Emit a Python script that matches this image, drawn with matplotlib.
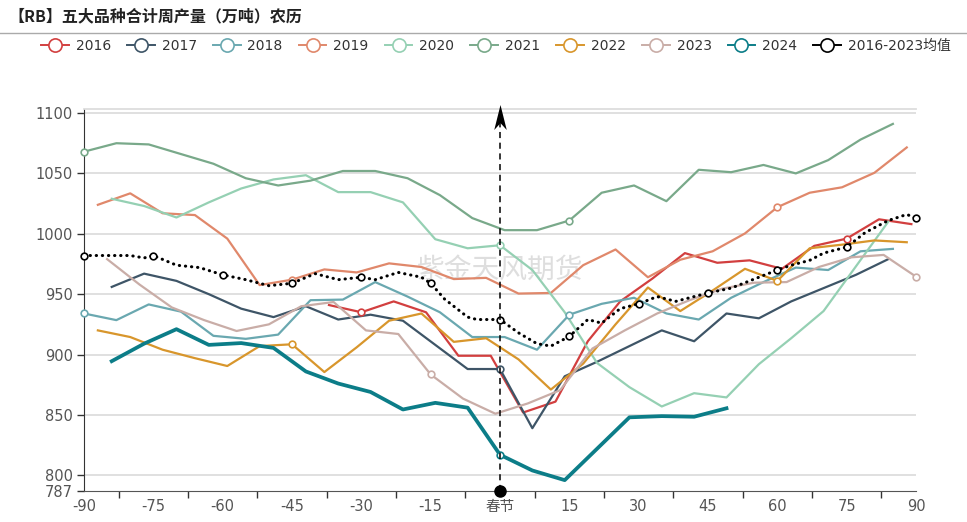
"""Weekly combined output of five steel products, aligned on lunar new year."""
import numpy as np
import matplotlib

matplotlib.use("Agg")
import matplotlib.pyplot as plt
from matplotlib.lines import Line2D
from matplotlib.path import Path

plt.rcParams["font.family"] = ["DejaVu Sans", "Noto Sans CJK SC"]

TITLE = "【RB】五大品种合计周产量（万吨）农历"
WATERMARK = "紫金天风期货"

# days relative to spring festival; weekly samples start at these offsets
START_2016, START_2017, START_2018, START_2019, START_2020 = -37, -84, -90, -87, -84
START_2021, START_2022, START_2023, START_2024 = -90, -87, -85, -84

y2016 = [941, 935, 944, 935, 899, 899, 852, 861, 911, 944, 963, 984, 976, 978,
         971, 990, 996, 1012, 1008]
y2017 = [956, 967, 961, 950, 938, 931, 940, 929, 933, 928, 908, 888, 888, 839,
         882, 894, 907, 920, 911, 934, 930, 944, 955, 966, 979]
y2018 = [934, 928.5, 941.5, 935.5, 915.5, 913, 916.5, 945, 945.5, 960, 948, 935,
         914.5, 914.5, 904, 933, 942, 947, 934, 929, 947, 960, 972, 970, 985.5,
         987.5]
y2019 = [1024, 1033.5, 1017, 1015.5, 996, 957.5, 962, 970.5, 968, 975.5, 972.5,
         962.5, 963.5, 950.5, 951, 974, 987, 964, 978.5, 985.5, 1000.3, 1022,
         1034, 1038.5, 1050.5, 1071.5]
y2020 = [1029, 1023, 1013.5, 1026, 1037.5, 1045, 1048.5, 1034.5, 1034.5, 1026,
         995.5, 988, 990.5, 970, 935, 893, 873, 857, 868, 864.5, 892, 913.5, 936,
         973, 1010]
y2021 = [1068, 1075, 1074, 1066, 1058, 1046, 1040, 1044, 1052, 1052, 1046, 1032,
         1013, 1003, 1003, 1011, 1034, 1040, 1027, 1053, 1051, 1057, 1050, 1061,
         1078, 1091]
y2022 = [920, 914.5, 904, 897, 890.5, 907, 908.5, 885.5, 906, 928, 934, 910.5,
         913.5, 896, 871, 892.5, 925, 955.5, 936, 953, 971, 961, 988, 991, 994.5,
         993]
y2023 = [979, 958, 939, 928.5, 919.5, 925, 940, 943.5, 920, 917, 883.5, 863.5,
         851, 859.5, 870.5, 905, 920, 934, 945, 954.5, 959.5, 960, 972.5, 980.5,
         982.5, 964.5]
y2024 = [894.5, 909, 921, 908, 909.5, 905.5, 886, 876, 869, 854.5, 860, 856, 817,
         804, 796, 822, 848, 849, 848.5, 855.5]

avg_days = [-90, -85, -80, -77, -75, -70, -65, -60, -55, -50, -45, -40, -35, -30,
            -27, -22, -17, -15, -12, -7, -5, 0, 4, 8, 11, 15, 19, 22, 26, 30, 34,
            38, 42, 45, 50, 54, 58, 60, 63, 67, 70, 75, 79, 84, 88, 90]
avg_vals = [982, 982, 982, 980, 982, 974, 972, 966, 962, 957, 959, 967, 962, 964,
            962, 968, 964, 959, 946, 931, 929, 929, 918, 909, 907, 915, 929, 926,
            938, 942, 948, 944, 948, 951, 955, 961, 967, 970, 974, 978, 984, 989,
            1001, 1011, 1016, 1013]

x_ticks = [-90, -75, -60, -45, -30, -15, 0, 15, 30, 45, 60, 75, 90]
x_labels = ["-90", "-75", "-60", "-45", "-30", "-15", "春节", "15", "30", "45",
            "60", "75", "90"]
y_ticks = [787, 800, 850, 900, 950, 1000, 1050, 1100]

SERIES = [
    ("2016", START_2016, y2016, "#d23f3f", 1.6),
    ("2017", START_2017, y2017, "#3e5567", 1.6),
    ("2018", START_2018, y2018, "#6aa8b0", 1.6),
    ("2019", START_2019, y2019, "#e0886b", 1.6),
    ("2020", START_2020, y2020, "#95d0b3", 1.6),
    ("2021", START_2021, y2021, "#79a98a", 1.6),
    ("2022", START_2022, y2022, "#d8962c", 1.6),
    ("2023", START_2023, y2023, "#c9ada7", 1.6),
    ("2024", START_2024, y2024, "#0c7d88", 2.7),
]

Y_MIN, Y_MAX = 787, 1103.5

# notched arrow head pointing up (unit marker path)
ARROW_HEAD = Path([(0, 1), (0.5, -1), (0, -0.45), (-0.5, -1), (0, 1)],
                  [Path.MOVETO, Path.LINETO, Path.LINETO, Path.LINETO,
                   Path.CLOSEPOLY])


def _draw_series(ax, days, vals, color, lw, ls="-", z=3):
    days = np.asarray(days)
    vals = np.asarray(vals, dtype=float)
    ax.plot(days, vals, color=color, linewidth=lw, linestyle=ls, zorder=z,
            solid_joinstyle="round", dash_capstyle="round")
    on_label = days % 15 == 0
    ax.plot(days[on_label], vals[on_label], linestyle="none", marker="o",
            markersize=4.8, markerfacecolor="white", markeredgecolor=color,
            markeredgewidth=1.2, zorder=z + 0.5, clip_on=False)


fig = plt.figure(figsize=(9.67, 5.22), dpi=100)
ax = fig.add_axes([84 / 967, 1 - 491 / 522, 832 / 967, (491 - 108.8) / 522])

fig.text(8 / 967, 1 - 16 / 522, TITLE, fontsize=11.5, fontweight="bold",
         color="#222222", va="center", ha="left",
         family=["Noto Sans CJK SC", "DejaVu Sans"])
fig.add_artist(Line2D([0, 1], [1 - 33 / 522] * 2, color="#aaaaaa", lw=1.0))

ax.text(0.5, 0.58, WATERMARK, transform=ax.transAxes, fontsize=20,
        color="#dedede", ha="center", va="center", zorder=1,
        family=["Noto Sans CJK SC"])

for name, start, vals, color, lw in SERIES:
    days = start + 7 * np.arange(len(vals))
    _draw_series(ax, days, vals, color, lw, z=4 if name == "2024" else 3)

_draw_series(ax, avg_days, avg_vals, "black", 2.2, ls=(0, (0.1, 1.9)), z=5)

# spring festival marker
ax.plot([0, 0], [Y_MIN, Y_MAX - 8], color="black", lw=1.1,
        linestyle=(0, (4, 3)), zorder=6, clip_on=False)
ax.plot(0, Y_MAX - 7, marker=ARROW_HEAD, markersize=18, color="black",
        markeredgewidth=0, zorder=6, clip_on=False)
ax.plot(0, Y_MIN, marker="o", markersize=8, color="black", zorder=7,
        clip_on=False)

ax.set_xlim(-90, 90)
ax.set_ylim(Y_MIN, Y_MAX)
ax.set_xticks(x_ticks)
ax.set_xticklabels(x_labels)
ax.set_xticks([t + 7.5 for t in x_ticks[:-1]], minor=True)
ax.set_yticks(y_ticks)
ax.tick_params(axis="x", which="major", length=0, pad=6, labelsize=10.5,
               labelcolor="#555555")
ax.tick_params(axis="x", which="minor", length=5, width=1, color="#333333")
ax.tick_params(axis="y", length=5, width=1, color="#333333", labelsize=10.5,
               labelcolor="#555555", pad=3)

for y in y_ticks[1:]:
    ax.axhline(y, color="#dddddd", lw=1.3, zorder=0)
ax.spines["right"].set_visible(False)
ax.spines["top"].set_color("#dddddd")
ax.spines["top"].set_linewidth(1.3)
ax.spines["left"].set_color("#333333")
ax.spines["bottom"].set_color("#555555")

handles = [
    Line2D([0], [0], color=color, lw=1.4, marker="o", markersize=9.5,
           markerfacecolor="white", markeredgecolor=color, markeredgewidth=1.2,
           label=name)
    for name, _, _, color, _ in SERIES
]
handles.append(Line2D([0], [0], color="black", lw=1.4, marker="o",
                      markersize=9.5, markerfacecolor="white",
                      markeredgecolor="black", markeredgewidth=1.2,
                      label="2016-2023均值"))
fig.legend(handles=handles, loc="center left",
           bbox_to_anchor=(41 / 967, 1 - 46 / 522), ncol=10, frameon=False,
           fontsize=10, handlelength=2.0, handletextpad=0.5,
           columnspacing=1.15, borderpad=0, borderaxespad=0,
           labelcolor="#333333")

fig.savefig("out.png", dpi=100)
plt.close(fig)
